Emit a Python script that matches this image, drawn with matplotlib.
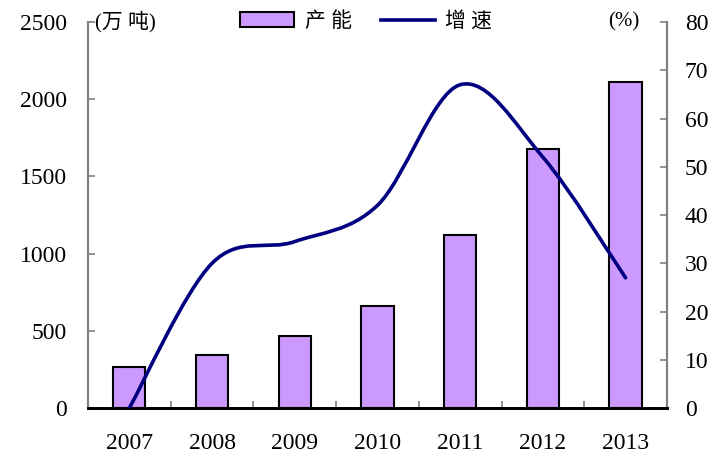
import matplotlib
matplotlib.use('Agg')
import matplotlib.pyplot as plt
import numpy as np
from matplotlib.path import Path
from matplotlib.patches import PathPatch, Patch
from matplotlib.lines import Line2D

plt.rcParams['font.family'] = ['Liberation Serif', 'Noto Sans CJK SC']

years = ['2007', '2008', '2009', '2010', '2011', '2012', '2013']
capacity = [263, 343, 466, 661, 1120, 1677, 2111]   # 万吨
growth = [0, 30, 34.5, 42, 67, 52, 27]              # %

bar_color = '#CC99FF'
line_color = '#000080'
spine_gray = '#808080'

fig = plt.figure(figsize=(7.21, 4.58), dpi=100)
ax = fig.add_axes([0.122, 0.109, 0.803, 0.843])
ax2 = ax.twinx()

x = np.arange(len(years))
ax.bar(x, capacity, width=0.39, color=bar_color, edgecolor='black', linewidth=1.5, zorder=2)

# smooth line through the points (bezier, Excel-like smoothing)
pts = np.column_stack([x, growth]).astype(float)
verts = [tuple(pts[0])]
codes = [Path.MOVETO]
n = len(pts)
for i in range(n - 1):
    p0 = pts[i - 1] if i > 0 else pts[i]
    p1 = pts[i]
    p2 = pts[i + 1]
    p3 = pts[i + 2] if i + 2 < n else pts[i + 1]
    c1 = p1 + (p2 - p0) / 6
    c2 = p2 - (p3 - p1) / 6
    verts += [tuple(c1), tuple(c2), tuple(p2)]
    codes += [Path.CURVE4] * 3
ax2.add_patch(PathPatch(Path(verts, codes), facecolor='none', edgecolor=line_color,
                        linewidth=2.6, capstyle='round', joinstyle='round', zorder=3))

ax.set_xlim(-0.5, len(years) - 0.5)
ax.set_ylim(0, 2500)
ax2.set_ylim(0, 80)
ax.set_yticks(range(0, 2501, 500))
ax2.set_yticks(range(0, 81, 10))
ax.set_xticks(x)
ax.set_xticklabels(years)
ax.set_xticks(np.arange(0.5, len(years) - 0.5, 1), minor=True)

ax.tick_params(axis='x', which='major', length=0, pad=18, labelsize=17)
ax.tick_params(axis='x', which='minor', direction='in', length=5, color=spine_gray, width=1.2)
ax.tick_params(axis='y', direction='in', length=5, color=spine_gray, width=1.2, pad=15, labelsize=17)
ax2.tick_params(axis='y', direction='in', length=5, color=spine_gray, width=1.2, pad=13, labelsize=17)

for a in (ax, ax2):
    a.spines['top'].set_visible(False)
    a.spines['left'].set_color(spine_gray)
    a.spines['right'].set_color(spine_gray)
    a.spines['left'].set_linewidth(1.5)
    a.spines['right'].set_linewidth(1.5)
    a.spines['bottom'].set_color('black')
    a.spines['bottom'].set_linewidth(2)

ax.text(0.012, 1.0, '(万 吨)', transform=ax.transAxes, fontsize=15, va='center', ha='left')
ax.text(0.953, 1.0, '(%)', transform=ax.transAxes, fontsize=15, va='center', ha='right')

handles = [Patch(facecolor=bar_color, edgecolor='black', linewidth=1.5),
           Line2D([0], [0], color=line_color, linewidth=2.6)]
fig.legend(handles, ['产 能', '增 速'], loc='center', bbox_to_anchor=(0.508, 0.952), ncol=2,
           frameon=False, fontsize=15, handlelength=2.6, handletextpad=0.5, columnspacing=1.4)

fig.savefig('out.png', dpi=100)
